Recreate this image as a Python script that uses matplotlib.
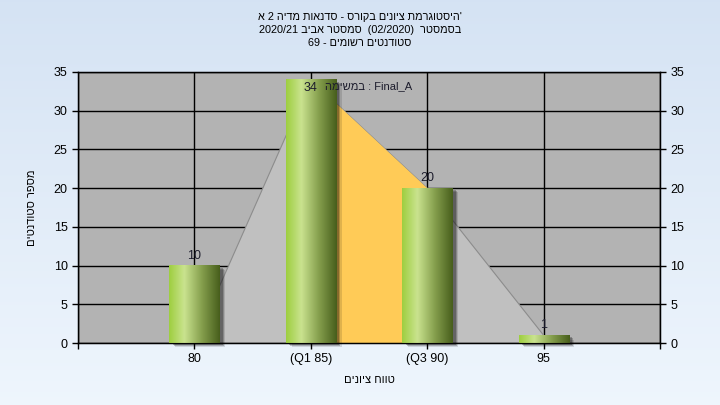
import numpy as np
import matplotlib
matplotlib.use("Agg")
import matplotlib.pyplot as plt
import matplotlib.patches as patches

plt.rcParams['font.family'] = ['Liberation Sans', 'DejaVu Sans']

# data
categories = ['80', '(Q1 85)', '(Q3 90)', '95']
counts = [10, 34, 20, 1]
title_lines = ["היסטוגרמת ציונים בקורס - סדנאות מדיה 2 א",
               "בסמסטר  (02/2020)  סמסטר אביב 2020/21",
               "סטודנטים רשומים - 69"]
task_label = "במשימה"
task_name = "Final_A"
xlabel = "טווח ציונים"
ylabel = "מספר סטודנטים"

MIRROR = {'(': ')', ')': '('}


def visual(s):
    # matplotlib has no bidi, so flip the string and put the digit runs back
    out = []
    run = ''
    for ch in reversed(s):
        if ch.isdigit() or ch in '/.':
            run = ch + run
        else:
            if run:
                out.append(run)
                run = ''
            out.append(MIRROR.get(ch, ch))
    if run:
        out.append(run)
    return ''.join(out)


fig = plt.figure(figsize=(7.2, 4.05), dpi=100)

# light blue background gradient
bg = fig.add_axes([0, 0, 1, 1], zorder=-10)
top = np.array([0.835, 0.890, 0.955])
bot = np.array([0.935, 0.963, 0.992])
t = np.linspace(0, 1, 200)[:, None]
bg.imshow((top * (1 - t) + bot * t)[:, None, :], aspect='auto', extent=[0, 1, 0, 1])
bg.axis('off')

ax = fig.add_axes([78 / 720, 1 - 343 / 405, 582 / 720, 271 / 405])
ax.set_facecolor('#b3b3b3')
x = np.arange(1, len(counts) + 1)

# area under the bar tops, middle part (Q1..Q3) in orange
poly_x = np.concatenate([[x[0]], x, [x[-1]]])
poly_y = np.concatenate([[0], counts, [0]])
poly_y[1] = 0
ax.fill(poly_x, poly_y, color='#c0c0c0', ec='#8c8c8c', lw=0.8, zorder=2)
ax.fill([x[1], x[1], x[2], x[2]], [0, counts[1], counts[2], 0],
        color='#ffcb57', lw=0, zorder=2.1)

# cylinder-ish bars
w = 0.43
stops = [0, 0.3, 0.65, 1.0]
cols = np.array([[0.62, 0.81, 0.25], [0.79, 0.89, 0.56], [0.52, 0.62, 0.30], [0.28, 0.37, 0.11]])
g = np.linspace(0, 1, 100)
grad = np.stack([np.interp(g, stops, cols[:, k]) for k in range(3)], axis=-1)[None, :, :]
for xi, v in zip(x, counts):
    for dx, dy, a in [(0.05, -0.55, 0.12), (0.04, -0.4, 0.2), (0.03, -0.25, 0.25)]:
        ax.add_patch(patches.Rectangle((xi - w / 2 + dx, dy), w, v, fc='black',
                                       alpha=a, lw=0, zorder=3, clip_on=False))
    ax.imshow(grad, aspect='auto', extent=[xi - w / 2, xi + w / 2, 0, v], zorder=4)
    if v + 2.5 > 35:
        ax.text(xi, v - 1.1, str(v), ha='center', va='center', fontsize=9,
                color='#1c1c2c', zorder=5)
    else:
        ax.text(xi, v + 0.5, str(v), ha='center', va='bottom', fontsize=9,
                color='#1c1c2c', zorder=5)

ax.text(0.5, 33.2, visual(task_label) + " : " + task_name, transform=ax.get_yaxis_transform(),
        ha='center', va='center', fontsize=8, color='#1c1c2c', zorder=5)

ax.set_xlim(0, 5)
ax.set_ylim(0, 35)
ax.set_xticks(range(0, 6))
ax.set_xticklabels([''] + categories + [''], fontsize=9)
ax.set_yticks(range(0, 36, 5))
ax.tick_params(axis='both', direction='out', length=4, width=1, labelsize=9, colors='black')
ax.grid(True, color='black', lw=1)
ax.set_axisbelow(True)
for s in ax.spines.values():
    s.set_color('black')
    s.set_linewidth(1)

ax2 = ax.twinx()
ax2.set_ylim(0, 35)
ax2.set_yticks(range(0, 36, 5))
ax2.tick_params(axis='y', direction='out', length=4, width=1, labelsize=9)

ax.set_xlabel(visual(xlabel), fontsize=8, labelpad=7)
ax.set_ylabel(visual(ylabel), fontsize=8, labelpad=12)

for i, line in enumerate(title_lines):
    txt = visual(line)
    if i == 0:
        txt = txt + "'"
    fig.text(0.5, 1 - (17 + 13 * i) / 405, txt, ha='center', va='center', fontsize=7.8)

fig.savefig('out.png', dpi=100)
